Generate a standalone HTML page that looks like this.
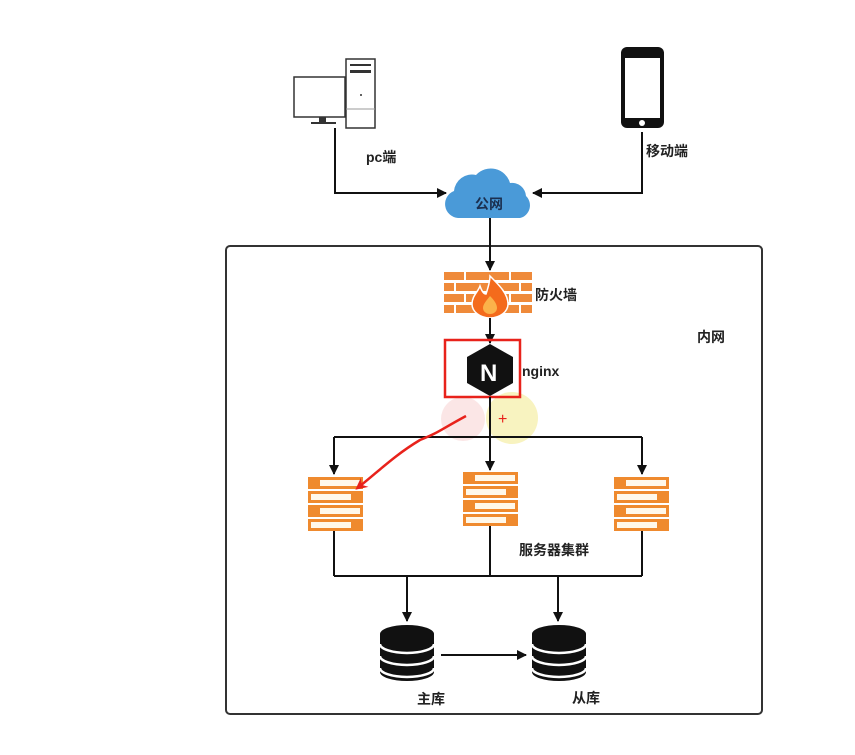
<!DOCTYPE html>
<html><head><meta charset="utf-8"><style>
html,body{margin:0;padding:0;background:#fff;width:855px;height:755px;overflow:hidden}
svg text{font-family:"Liberation Sans","Noto Sans CJK SC",sans-serif;font-weight:bold;fill:#222}
</style></head><body>
<svg width="855" height="755" viewBox="0 0 855 755" xmlns="http://www.w3.org/2000/svg">
<defs>
<marker id="a" markerWidth="10" markerHeight="10" refX="9" refY="5" orient="auto" markerUnits="userSpaceOnUse">
<path d="M0,0 L10,5 L0,10 z" fill="#111"/></marker>
<marker id="ar" markerWidth="12" markerHeight="12" refX="6" refY="6" orient="auto" markerUnits="userSpaceOnUse">
<path d="M0,0 L12,6 L0,12 L4,6 z" fill="#e8221b"/></marker>
<g id="srv">
<rect x="0" y="0" width="55" height="12" fill="#ef8a2e"/><rect x="12" y="3" width="40" height="6" fill="#fff8ea"/>
<rect x="0" y="14" width="55" height="12" fill="#ef8a2e"/><rect x="3" y="17" width="40" height="6" fill="#fff8ea"/>
<rect x="0" y="28" width="55" height="12" fill="#ef8a2e"/><rect x="12" y="31" width="40" height="6" fill="#fff8ea"/>
<rect x="0" y="42" width="55" height="12" fill="#ef8a2e"/><rect x="3" y="45" width="40" height="6" fill="#fff8ea"/>
</g>
<g id="db">
<path d="M0,10 a27,9 0 0 1 54,0 v38 a27,9 0 0 1 -54,0 z" fill="#111"/>
<path d="M0,20 a27,9 0 0 0 54,0" stroke="#fff" stroke-width="2.5" fill="none"/>
<path d="M0,32 a27,9 0 0 0 54,0" stroke="#fff" stroke-width="2.5" fill="none"/>
<path d="M0,44 a27,9 0 0 0 54,0" stroke="#fff" stroke-width="2.5" fill="none"/>
</g>
</defs>

<rect x="226" y="246" width="536" height="468" rx="4" fill="none" stroke="#333" stroke-width="2"/>

<!-- PC -->
<rect x="346" y="59" width="29" height="69" fill="#fff" stroke="#333" stroke-width="1.5"/>
<rect x="350" y="64" width="21" height="2" fill="#333"/><rect x="350" y="70" width="21" height="3" fill="#333"/>
<circle cx="361" cy="95" r="1" fill="#333"/><line x1="346" y1="109" x2="375" y2="109" stroke="#999"/>
<rect x="294" y="77" width="51" height="40" fill="#fff" stroke="#333" stroke-width="1.5"/>
<rect x="319" y="117" width="7" height="5" fill="#333"/><rect x="311" y="122" width="25" height="2" fill="#333"/>
<!-- phone -->
<rect x="621" y="47" width="43" height="81" rx="6" fill="#111"/>
<rect x="625" y="58" width="35" height="60" fill="#fff"/>
<circle cx="642" cy="123" r="3" fill="#fff"/>
<text x="366" y="162" font-size="14">pc端</text>
<text x="646" y="156" font-size="14">移动端</text>

<polyline points="335,128 335,193 446,193" fill="none" stroke="#111" stroke-width="2" marker-end="url(#a)"/>
<polyline points="642,132 642,193 533,193" fill="none" stroke="#111" stroke-width="2" marker-end="url(#a)"/>

<!-- cloud -->
<path d="M458,218 a14,14 0 0 1 -4,-27 a18,18 0 0 1 22,-16 a20,20 0 0 1 34,8 a14,14 0 0 1 16,13 a13,13 0 0 1 -6,22 z" fill="#4a9ad8"/>
<text x="475" y="209" font-size="14" style="fill:#1b2f4f">公网</text>

<line x1="490" y1="218" x2="490" y2="270" stroke="#111" stroke-width="2" marker-end="url(#a)"/>

<!-- firewall -->
<g fill="#ef8a3a">
<rect x="444" y="272" width="88" height="8"/><rect x="444" y="283" width="88" height="8"/><rect x="444" y="294" width="88" height="8"/><rect x="444" y="305" width="88" height="8"/>
</g>
<g stroke="#fff" stroke-width="2">
<line x1="465" y1="272" x2="465" y2="280"/><line x1="510" y1="272" x2="510" y2="280"/>
<line x1="455" y1="283" x2="455" y2="291"/><line x1="520" y1="283" x2="520" y2="291"/>
<line x1="465" y1="294" x2="465" y2="302"/><line x1="510" y1="294" x2="510" y2="302"/>
<line x1="455" y1="305" x2="455" y2="313"/><line x1="520" y1="305" x2="520" y2="313"/>
</g>
<path d="M490,276 c10,10 18,18 18,28 a18,14 0 0 1 -36,0 c0,-8 6,-12 8,-18 c2,6 4,8 6,8 c2,-6 4,-12 4,-18z" fill="#f46b1c" stroke="#fff" stroke-width="1.5"/>
<path d="M490,296 c4,4 7,8 7,12 a7,6 0 0 1 -14,0 c0,-4 4,-8 7,-12z" fill="#fbb24a"/>
<text x="535" y="300" font-size="14">防火墙</text>
<text x="697" y="342" font-size="14">内网</text>

<line x1="490" y1="318" x2="490" y2="343" stroke="#111" stroke-width="2" marker-end="url(#a)"/>

<!-- highlight circles -->
<circle cx="463" cy="419" r="22" fill="#f9dcdc" opacity="0.7"/>
<circle cx="512" cy="418" r="26" fill="#f6f0b0" opacity="0.8"/>

<!-- nginx -->
<polygon points="490,344 513,357 513,383 490,396 467,383 467,357" fill="#111"/>
<text x="480" y="381" font-size="24" style="fill:#fff">N</text>
<rect x="445" y="340" width="75" height="57" fill="none" stroke="#e8221b" stroke-width="2.5"/>
<text x="522" y="376" font-size="14">nginx</text>
<text x="498" y="424" font-size="16" style="fill:#e8221b;font-weight:normal">+</text>

<line x1="490" y1="397" x2="490" y2="437" stroke="#111" stroke-width="2"/>
<line x1="334" y1="437" x2="642" y2="437" stroke="#111" stroke-width="2"/>
<line x1="334" y1="437" x2="334" y2="474" stroke="#111" stroke-width="2" marker-end="url(#a)"/>
<line x1="490" y1="437" x2="490" y2="470" stroke="#111" stroke-width="2" marker-end="url(#a)"/>
<line x1="642" y1="437" x2="642" y2="474" stroke="#111" stroke-width="2" marker-end="url(#a)"/>

<use href="#srv" x="308" y="477"/>
<use href="#srv" x="463" y="472"/>
<use href="#srv" x="614" y="477"/>

<path d="M466,416 C440,430 440,432 420,440 C395,455 380,470 360,486" fill="none" stroke="#e8221b" stroke-width="2.5" marker-end="url(#ar)"/>

<text x="519" y="555" font-size="14">服务器集群</text>

<g stroke="#111" stroke-width="2" fill="none">
<line x1="334" y1="531" x2="334" y2="576"/><line x1="490" y1="526" x2="490" y2="576"/><line x1="642" y1="531" x2="642" y2="576"/>
<line x1="334" y1="576" x2="642" y2="576"/>
<line x1="407" y1="576" x2="407" y2="621" marker-end="url(#a)"/>
<line x1="558" y1="576" x2="558" y2="621" marker-end="url(#a)"/>
<line x1="441" y1="655" x2="526" y2="655" marker-end="url(#a)"/>
</g>

<use href="#db" x="380" y="624"/>
<use href="#db" x="532" y="624"/>
<text x="417" y="704" font-size="14">主库</text>
<text x="572" y="703" font-size="14">从库</text>
</svg>
</body></html>
